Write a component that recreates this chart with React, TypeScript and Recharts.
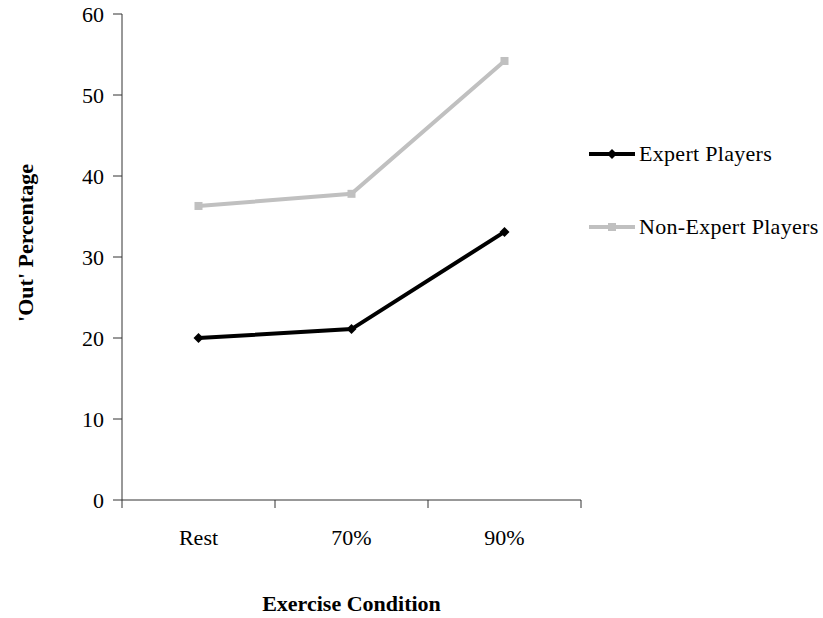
import { LineChart, Line, XAxis, YAxis } from 'recharts'

const conditions = ['Rest', '70%', '90%']
const expertPlayers = [20.0, 21.1, 33.1]
const nonExpertPlayers = [36.3, 37.8, 54.2]
const yTicks = [0, 10, 20, 30, 40, 50, 60]

// categories sit at band centres; tick marks fall on band edges
const xTicks = [0, 0.5, 1, 1.5, 2, 2.5, 3]

const data = conditions.map((condition, i) => ({
    pos: i + 0.5,
    condition,
    expert: expertPlayers[i],
    nonExpert: nonExpertPlayers[i],
}))

const FONT = '"Liberation Serif", "Times New Roman", serif'
const FONT_SIZE = 22
const AXIS_COLOR = '#333'
const EXPERT_COLOR = '#000000'
const NON_EXPERT_COLOR = '#c0c0c0'

const series = [
    { key: 'expert', name: 'Expert Players', color: EXPERT_COLOR, marker: 'diamond' },
    { key: 'nonExpert', name: 'Non-Expert Players', color: NON_EXPERT_COLOR, marker: 'square' },
]

function Marker({ cx, cy, shape, color }: { cx: number; cy: number; shape: string; color: string }) {
    if (shape === 'diamond') {
        return <path d={`M${cx},${cy - 5} L${cx + 5},${cy} L${cx},${cy + 5} L${cx - 5},${cy} Z`} fill={color} />
    }
    return <rect x={cx - 4} y={cy - 4} width={8} height={8} fill={color} />
}

function ConditionTick(props: any) {
    const { x, y, payload } = props
    const v = payload.value
    if (Number.isInteger(v)) {
        return <line x1={x} y1={y} x2={x} y2={y + 8} stroke={AXIS_COLOR} strokeWidth={1} />
    }
    return (
        <text x={x} y={y + 45} textAnchor="middle" fontFamily={FONT} fontSize={FONT_SIZE} fill="#000">
            {conditions[Math.floor(v)]}
        </text>
    )
}

function SeriesLegend() {
    return (
        <div
            style={{
                position: 'absolute',
                left: 589,
                top: 140,
                fontFamily: FONT,
                fontSize: FONT_SIZE,
                letterSpacing: 0.3,
                color: '#000',
                lineHeight: '28px',
            }}
        >
            {series.map((s) => (
                <div key={s.key} style={{ display: 'flex', alignItems: 'center', height: 28, marginBottom: 45 }}>
                    <svg width={50} height={12} style={{ display: 'block' }}>
                        <line x1={0} y1={6} x2={46} y2={6} stroke={s.color} strokeWidth={4} />
                        <Marker cx={23} cy={6} shape={s.marker} color={s.color} />
                    </svg>
                    <span style={{ whiteSpace: 'nowrap' }}>{s.name}</span>
                </div>
            ))}
        </div>
    )
}

export default function App() {
    return (
        <div style={{ position: 'absolute', left: 0, top: 0, width: 823, height: 618, background: '#fff' }}>
            <LineChart
                width={823}
                height={618}
                data={data}
                margin={{ top: 14, right: 242, left: 0, bottom: 0 }}
            >
                <XAxis
                    dataKey="pos"
                    type="number"
                    domain={[0, 3]}
                    ticks={xTicks}
                    interval={0}
                    height={118}
                    tickSize={0}
                    tickMargin={0}
                    tickLine={false}
                    axisLine={{ stroke: AXIS_COLOR }}
                    tick={<ConditionTick />}
                    label={{
                        content: ({ viewBox }: any) => (
                            <text
                                x={viewBox.x + viewBox.width / 2}
                                y={viewBox.y + 111}
                                textAnchor="middle"
                                fontFamily={FONT}
                                fontSize={FONT_SIZE}
                                fontWeight="bold"
                                fill="#000"
                            >
                                Exercise Condition
                            </text>
                        ),
                    }}
                />
                <YAxis
                    domain={[0, 60]}
                    ticks={yTicks}
                    interval={0}
                    width={122}
                    tickSize={9}
                    tickMargin={9}
                    tickLine={{ stroke: AXIS_COLOR }}
                    axisLine={{ stroke: AXIS_COLOR }}
                    tick={{ fontFamily: FONT, fontSize: FONT_SIZE, fill: '#000' }}
                    label={{
                        content: ({ viewBox }: any) => {
                            const cx = viewBox.x + 25
                            const cy = viewBox.y + viewBox.height / 2 - 14
                            return (
                                <text
                                    x={cx}
                                    y={cy}
                                    transform={`rotate(-90 ${cx} ${cy})`}
                                    textAnchor="middle"
                                    dominantBaseline="central"
                                    fontFamily={FONT}
                                    fontSize={FONT_SIZE}
                                    fontWeight="bold"
                                    fill="#000"
                                >
                                    'Out' Percentage
                                </text>
                            )
                        },
                    }}
                />
                {series.map((s) => (
                    <Line
                        key={s.key}
                        dataKey={s.key}
                        name={s.name}
                        stroke={s.color}
                        strokeWidth={4}
                        isAnimationActive={false}
                        dot={(p: any) => <Marker key={`${s.key}-${p.index}`} cx={p.cx} cy={p.cy} shape={s.marker} color={s.color} />}
                        activeDot={false}
                    />
                ))}
            </LineChart>
            <SeriesLegend />
        </div>
    )
}
